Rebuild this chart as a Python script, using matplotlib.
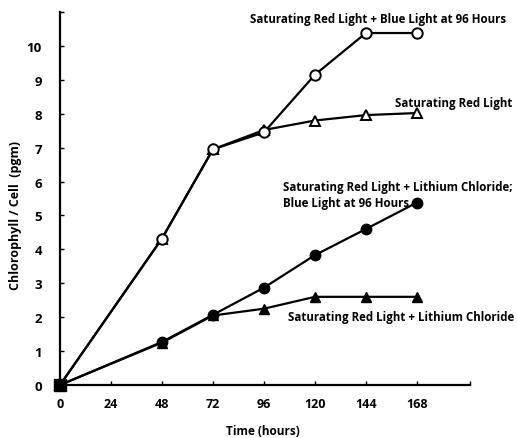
import matplotlib
matplotlib.use("Agg")
import matplotlib.pyplot as plt

plt.rcParams['font.family'] = ['Open Sans', 'DejaVu Sans']
plt.rcParams['font.weight'] = 'bold'

hours = [0, 48, 72, 96, 120, 144, 168]
red_blue = [0, 4.32, 6.95, 7.45, 9.15, 10.38, 10.38]
red = [0, 4.32, 6.95, 7.52, 7.8, 7.96, 8.02]
red_licl_blue = [0, 1.27, 2.07, 2.87, 3.83, 4.6, 5.38]
red_licl = [0, 1.25, 2.05, 2.25, 2.6, 2.6, 2.6]

xticks = [0, 24, 48, 72, 96, 120, 144, 168]
yticks = list(range(0, 11))

W, H = 517, 439
fig = plt.figure(figsize=(W / 100, H / 100), dpi=100)
ax = fig.add_axes([60 / W, 53 / H, (470 - 60) / W, (426 - 53) / H])

lw = 1.6
ms = 7.5
ax.plot(hours, red_licl, color='black', lw=lw, marker='^', ms=ms, mfc='black', mec='black', zorder=3, clip_on=False)
ax.plot(hours, red_licl_blue, color='black', lw=lw, marker='o', ms=ms, mfc='black', mec='black', zorder=3, clip_on=False)
ax.plot(hours, red, color='black', lw=lw, marker='^', ms=ms, mfc='white', mec='black', mew=1.4, zorder=3, clip_on=False)
ax.plot(hours, red_blue, color='black', lw=lw, marker='o', ms=ms, mfc='white', mec='black', mew=1.4, zorder=4, clip_on=False)
ax.plot([0], [0], marker='s', ms=8, color='black', zorder=5, clip_on=False)

ax.set_xlim(0, 193)
ax.set_ylim(0, 11)
ax.spines['top'].set_visible(False)
ax.spines['right'].set_visible(False)
ax.spines['left'].set_linewidth(1.6)
ax.spines['bottom'].set_linewidth(1.6)
ax.set_xticks(xticks)
ax.set_xticklabels([str(t) for t in xticks], fontsize=9, fontweight='bold')
ax.set_yticks(yticks)
ax.set_yticklabels([str(t) for t in yticks], fontsize=9.5, fontweight='bold')
ax.set_xticks([193], minor=True)
ax.set_yticks([11], minor=True)
ax.tick_params(axis='x', which='both', direction='in', length=3, width=1, pad=9)
ax.tick_params(axis='y', which='both', direction='in', length=3, width=1, pad=13)

fig.text(263 / W, 1 - 432 / H, 'Time (hours)', fontsize=8.5, fontweight='bold', ha='center', va='center')
fig.text(16 / W, 1 - 215 / H, 'Chlorophyll / Cell  (pgm)', fontsize=9, fontweight='bold',
         ha='center', va='center', rotation=90)

fs = 8.3
fig.text(250 / W, 1 - 20 / H, 'Saturating Red Light + Blue Light at 96 Hours',
         fontsize=fs, fontweight='bold', va='center', ha='left')
fig.text(395 / W, 1 - 103 / H, 'Saturating Red Light',
         fontsize=fs, fontweight='bold', va='center', ha='left')
fig.text(283 / W, 1 - 188 / H, 'Saturating Red Light + Lithium Chloride;',
         fontsize=fs, fontweight='bold', va='center', ha='left')
fig.text(283 / W, 1 - 204 / H, 'Blue Light at 96 Hours',
         fontsize=fs, fontweight='bold', va='center', ha='left')
fig.text(288 / W, 1 - 318 / H, 'Saturating Red Light + Lithium Chloride',
         fontsize=fs, fontweight='bold', va='center', ha='left')

fig.savefig('out.png', dpi=100)
